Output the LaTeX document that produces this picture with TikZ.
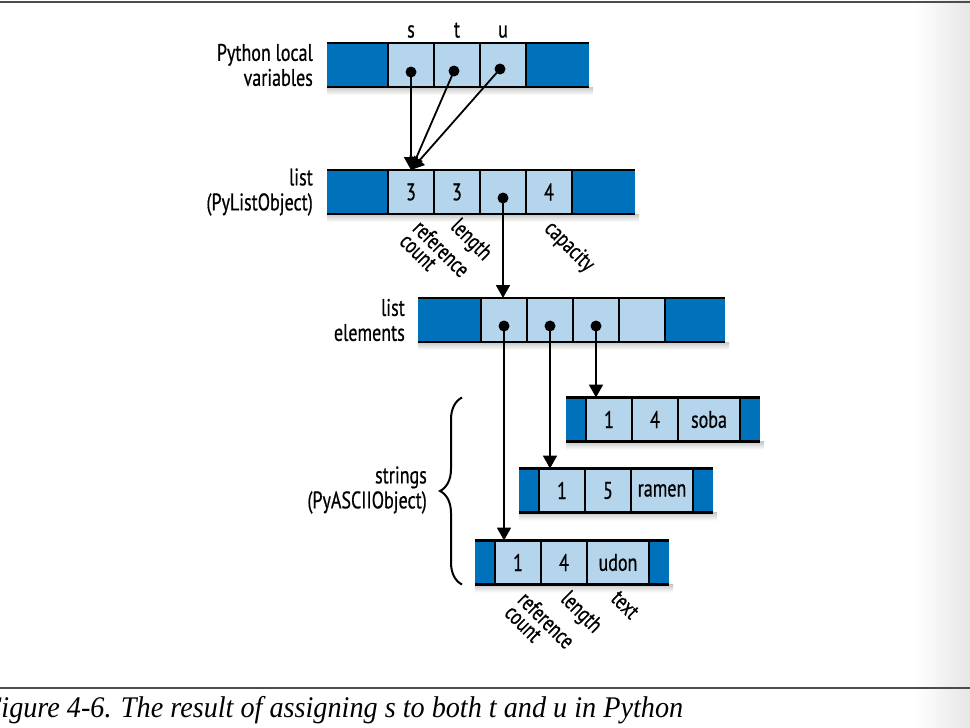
\documentclass[tikz,border=0pt]{standalone}
\usepackage{fontspec}
\usepackage{xcolor}
\usepackage{tikz}
\usetikzlibrary{arrows.meta,positioning,decorations.pathreplacing}
\newfontfamily\lbl{PT Sans}[FakeStretch=0.75,FakeBold=0.6]
\newfontfamily\capfont{Liberation Serif}[FakeStretch=0.94]
\definecolor{dblue}{HTML}{0072BC}
\definecolor{lblue}{HTML}{B4D5EC}
\tikzset{
  cell/.style={rectangle, fill=lblue, minimum width=46pt, minimum height=44pt,
    inner sep=0pt, outer sep=0pt, font=\lbl\fontsize{24}{25}\selectfont},
  endbox/.style={cell, fill=dblue},
  rim/.style={line width=2.6pt},
  divider/.style={line width=1.8pt},
  dot/.style={circle, fill=black, minimum size=11pt, inner sep=0pt},
  ptr/.style={line width=1.8pt, -{Triangle[length=13pt,width=14pt]}},
  rowlabel/.style={align=right, inner sep=0pt, font=\lbl\fontsize{24}{25}\selectfont},
  field/.style={rotate=-45, anchor=north west, align=left, inner sep=0pt,
    font=\lbl\fontsize{23}{18.5}\selectfont}
}
\newcommand{\rowrims}[3]{%
  \shade[top color=black!22, bottom color=white] (#1.south west) rectangle ([xshift=4pt,yshift=-8pt]#2.south east);
  \draw[rim] (#1.north west) -- (#2.north east) (#1.south west) -- (#2.south east);
  \foreach \c in {#3} \draw[divider] (\c.north west) -- (\c.south west);}

\begin{document}
\begin{tikzpicture}[x=1pt,y=-1pt]
  \useasboundingbox (0,0) rectangle (970,728);
  \shade[left color=white, right color=black!10] (915,0) rectangle (970,728);
  \draw[black!70, line width=1.2pt] (0,2) -- (970,2) (0,688) -- (970,688);

  % Python local variables
  \node[endbox, minimum width=61pt] (v0) at (357.5,65) {};
  \node[cell, right=0pt of v0] (v1) {};
  \node[cell, right=0pt of v1] (v2) {};
  \node[cell, right=0pt of v2] (v3) {};
  \node[endbox, minimum width=63pt, right=0pt of v3] (v4) {};
  \rowrims{v0}{v4}{v1,v2,v3,v4}
  \node[rowlabel, left=14pt of v0] (vlbl) {Python local\\variables};
  \node[rowlabel, above=5pt of v1] (sname) {s};
  \node[rowlabel, above=5pt of v2] (tname) {t};
  \node[rowlabel, above=5pt of v3] (uname) {u};

  % list (PyListObject)
  \node[endbox, minimum width=61pt] (l0) at (357.5,192) {};
  \node[cell, right=0pt of l0] (l1) {3};
  \node[cell, right=0pt of l1] (l2) {3};
  \node[cell, right=0pt of l2] (l3) {};
  \node[cell, right=0pt of l3] (l4) {4};
  \node[endbox, minimum width=63pt, right=0pt of l4] (l5) {};
  \rowrims{l0}{l5}{l1,l2,l3,l4,l5}
  \node[rowlabel, left=14pt of l0] (llbl) {list\\(PyListObject)};
  \node[field] (lref) at ([xshift=12pt,yshift=-4pt]l1.south) {reference\\count};
  \node[field] (llen) at ([xshift=4pt,yshift=-2pt]l2.south) {length};
  \node[field] (lcap) at ([xshift=6pt,yshift=-4pt]l4.south) {capacity};

  % list elements
  \node[endbox, minimum width=63pt] (e0) at (449.5,320) {};
  \node[cell, right=0pt of e0] (e1) {};
  \node[cell, right=0pt of e1] (e2) {};
  \node[cell, right=0pt of e2] (e3) {};
  \node[cell, right=0pt of e3] (e4) {};
  \node[endbox, minimum width=60pt, right=0pt of e4] (e5) {};
  \rowrims{e0}{e5}{e1,e2,e3,e4,e5}
  \node[rowlabel, left=13pt of e0] (elbl) {list\\elements};

  % strings
  \foreach \n/\x/\y/\a/\b/\w in {s/576/419.5/1/4/soba, r/529/490.5/1/5/ramen, u/485/562.5/1/4/udon} {
    \node[endbox, minimum width=20pt] (\n0) at (\x,\y) {};
    \node[cell, right=0pt of \n0] (\n1) {\a};
    \node[cell, right=0pt of \n1] (\n2) {\b};
    \node[cell, minimum width=62pt, right=0pt of \n2] (\n3) {\w};
    \node[endbox, minimum width=20pt, right=0pt of \n3] (\n4) {};
    \rowrims{\n0}{\n4}{\n1,\n2,\n3,\n4}
  }
  \node[field] (uref) at ([xshift=10pt,yshift=-5pt]u1.south) {reference\\count};
  \node[field] (ulen) at ([xshift=7pt,yshift=-4pt]u2.south) {length};
  \node[field] (utxt) at ([xshift=2pt,yshift=-5pt]u3.south) {text};
  \coordinate (bb) at ([xshift=-13pt]u0.south west);
  \coordinate (bt) at (bb |- s0.north);
  \draw[line width=2pt, decorate, decoration={brace, amplitude=22pt}] (bb) -- (bt);
  \node[rowlabel, anchor=east] (slbl) at (427,490) {strings\\(PyASCIIObject)};

  % pointers
  \node[dot] (vs) at ([yshift=-7pt]v1.center) {};
  \node[dot] (vt) at ([xshift=-3pt,yshift=-6pt]v2.center) {};
  \node[dot] (vu) at ([xshift=-3pt,yshift=-4pt]v3.center) {};
  \node[dot] (ld) at ([yshift=-6pt]l3.center) {};
  \node[dot] (d1) at ([yshift=-6pt]e1.center) {};
  \node[dot] (d2) at ([yshift=-6pt]e2.center) {};
  \node[dot] (d3) at ([yshift=-6pt]e3.center) {};
  \draw[ptr] (vs.center) -- (l1.north);
  \draw[ptr] (vt.center) -- (l1.north);
  \draw[ptr] (vu.center) -- (l1.north);
  \draw[ptr] (ld.center) -- (ld |- e1.north);
  \draw[ptr] (d1.center) -- (d1 |- u1.north);
  \draw[ptr] (d2.center) -- (d2 |- r1.north);
  \draw[ptr] (d3.center) -- (d3 |- s1.north);

  \node[anchor=base west, inner sep=0pt, font=\capfont\itshape\fontsize{30}{30}\selectfont]
    (cap) at (-16,717) {Figure 4-6. The result of assigning s to both t and u in Python};
\end{tikzpicture}
\end{document}
